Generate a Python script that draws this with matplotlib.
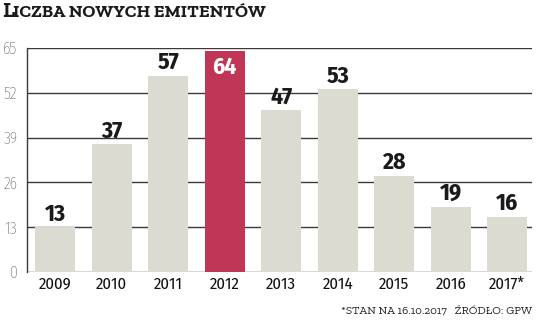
import matplotlib
matplotlib.use("Agg")
import matplotlib.pyplot as plt

# data
years = ["2009", "2010", "2011", "2012", "2013", "2014", "2015", "2016", "2017*"]
counts = [13, 37, 57, 64, 47, 53, 28, 19, 16]
highlight = "2012"
yticks = [0, 13, 26, 39, 52, 65]

narrow = ["Fira Sans Condensed", "Roboto Condensed", "DejaVu Sans"]
slab = ["Zilla Slab", "Roboto Slab", "DejaVu Serif"]

gray = "#dcdbd1"
red = "#bf3657"
line = "#3a3a3a"

fig = plt.figure(figsize=(5.36, 3.23), dpi=100)
ax = fig.add_axes([27 / 536, 1 - 272 / 323, (532 - 27) / 536, (272 - 48) / 323])

colors = [red if y == highlight else gray for y in years]
x = list(range(len(years)))
ax.bar(x, counts, width=0.71, color=colors, zorder=2)

# value labels: above the bars, the highlighted one white inside its bar
for xi, yr, v in zip(x, years, counts):
    if yr == highlight:
        ax.text(xi, v - 1.2, str(v), ha="center", va="top", fontsize=17,
                fontweight="bold", family=narrow, color="white", zorder=3)
    else:
        ax.text(xi, v + 0.5, str(v), ha="center", va="bottom", fontsize=17,
                fontweight="bold", family=narrow, color="#1a1a1a", zorder=3)

ax.set_xlim(-0.5, 8.44)
ax.set_ylim(0, 65)
ax.set_yticks(yticks)
ax.set_yticklabels([str(t) for t in yticks], family=narrow, fontsize=11.5,
                   fontweight="light", color="#222222")
ax.set_xticks(x)
ax.set_xticklabels(years, family=narrow, fontsize=12, color="#111111")
ax.tick_params(axis="x", length=0, pad=3)
ax.tick_params(axis="y", length=0, pad=7)

for y in yticks[1:]:
    ax.axhline(y, color=line, lw=1.0, zorder=1)
for s in ["top", "right", "bottom"]:
    ax.spines[s].set_visible(False)
ax.spines["left"].set_color(line)
ax.spines["left"].set_linewidth(1.0)
ax.axhline(0, color=line, lw=1.0, zorder=1)

# title in small caps
fig.text(2 / 536, 1 - 17 / 323, "L", fontsize=16, fontweight="bold", family=slab,
         color="#1a1a1a", ha="left", va="baseline")
fig.text(13 / 536, 1 - 17 / 323, "ICZBA NOWYCH EMITENTÓW", fontsize=13,
         fontweight="bold", family=slab, color="#1a1a1a", ha="left", va="baseline")

# footer
fig.text(532 / 536, 1 - 315 / 323, "*STAN NA 16.10.2017   ŹRÓDŁO: GPW", fontsize=8.5,
         family=slab, color="#222222", ha="right", va="baseline")

fig.savefig("out.png", dpi=100)
